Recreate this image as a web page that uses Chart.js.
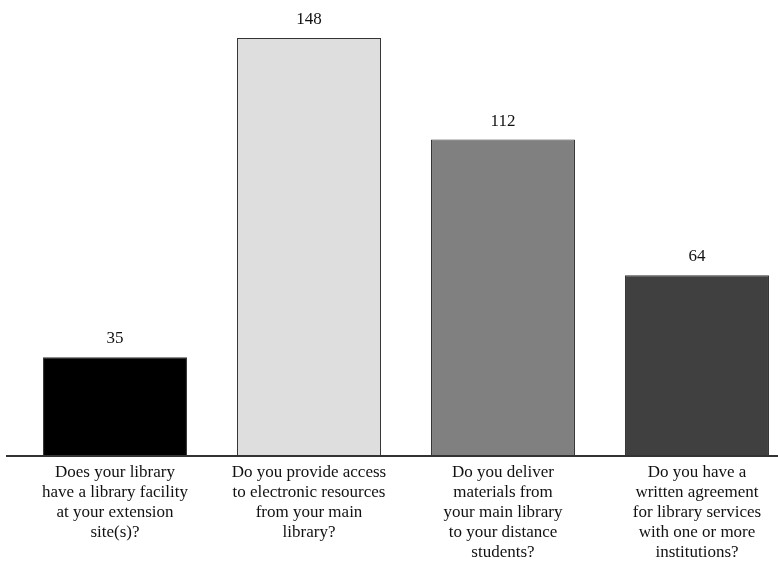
<!DOCTYPE html>
<html>
<head>
<meta charset="utf-8">
<script src="https://cdn.jsdelivr.net/npm/chart.js@4"></script>
<style>
  html, body { margin: 0; padding: 0; background: #fff; }
  #wrap { width: 778px; height: 574px; }
</style>
</head>
<body>
<div id="wrap"><canvas id="myChart"></canvas></div>
<script>
// Survey questions along the x-axis (one line per array entry)
var questions = [
  ['Does your library', 'have a library facility', 'at your extension', 'site(s)?'],
  ['Do you provide access', 'to electronic resources', 'from your main', 'library?'],
  ['Do you deliver', 'materials from', 'your main library', 'to your distance', 'students?'],
  ['Do you have a', 'written agreement', 'for library services', 'with one or more', 'institutions?']
];
// Number of "yes" answers
var yesCounts = [35, 148, 112, 64];
var barColors = ['#000000', '#dedede', '#808080', '#404040'];

var serif = "'Liberation Serif', 'DejaVu Serif', serif";

// value above each bar + the long base line
var barExtras = {
  id: 'barExtras',
  afterDatasetsDraw: function (chart) {
    var ctx = chart.ctx;
    var y0 = chart.scales.y.getPixelForValue(0);
    ctx.save();
    ctx.strokeStyle = '#333';
    ctx.lineWidth = 2;
    ctx.beginPath();
    ctx.moveTo(6, y0);
    ctx.lineTo(chart.width, y0);
    ctx.stroke();

    ctx.fillStyle = '#111';
    ctx.font = '17px ' + serif;
    ctx.textAlign = 'center';
    ctx.textBaseline = 'bottom';
    chart.getDatasetMeta(0).data.forEach(function (bar, i) {
      ctx.fillText(String(yesCounts[i]), bar.x, bar.y - 10);
    });
    ctx.restore();
  }
};

var ctx = document.getElementById('myChart');
var myChart = new Chart(ctx, {
  type: 'bar',
  data: {
    labels: questions,
    datasets: [{
      data: yesCounts,
      backgroundColor: barColors,
      borderColor: '#333',
      borderWidth: 1,
      borderSkipped: 'bottom',
      barPercentage: 0.742,
      categoryPercentage: 1,
      clip: false
    }]
  },
  options: {
    responsive: true,
    maintainAspectRatio: false,
    animation: false,
    // ticks sit on the area edges (offset off), so side padding places the columns
    layout: { padding: { left: 115, right: 81, top: 4, bottom: 4 } },
    plugins: {
      legend: { display: false },
      tooltip: { enabled: false }
    },
    scales: {
      x: {
        offset: false,
        grid: { display: false, drawTicks: false },
        border: { display: false },
        ticks: {
          color: '#111',
          padding: 7,
          maxRotation: 0,
          autoSkip: false,
          font: { family: serif, size: 17, lineHeight: '20px' }
        }
      },
      y: {
        display: false,
        min: 0,
        max: 160
      }
    }
  },
  plugins: [barExtras]
});
</script>
</body>
</html>
